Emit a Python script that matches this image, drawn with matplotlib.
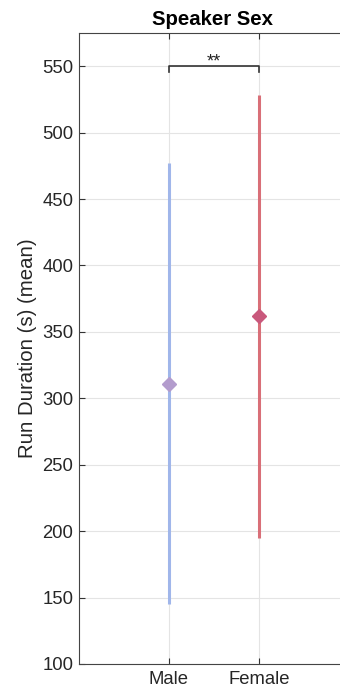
import matplotlib
matplotlib.use("Agg")
import matplotlib.pyplot as plt

plt.rcParams['font.family'] = ['Liberation Sans', 'DejaVu Sans']

# data
groups = ["Male", "Female"]
means = [311, 362]
lows = [145, 195]
highs = [477, 528]
line_colors = ["#a0b6ea", "#d96f78"]
marker_colors = ["#b39ccd", "#c9587c"]
sig_y = 550
sig_text = "**"

fig = plt.figure(figsize=(3.4, 6.9), dpi=100)
ax = fig.add_axes([79/340, 26/690, 270/340, 631/690])

xs = [1, 2]
for x, lo, hi, m, lc, mc in zip(xs, lows, highs, means, line_colors, marker_colors):
    ax.plot([x, x], [lo, hi], color=lc, linewidth=2.2, solid_capstyle='butt', zorder=3)
    ax.plot(x, m, marker='D', markersize=7, color=mc, markeredgecolor=mc, zorder=4)

# significance bracket
ax.plot([1, 1, 2, 2], [sig_y - 4, sig_y, sig_y, sig_y - 4], color="#333333", linewidth=1.2, zorder=5)
ax.text(1.5, sig_y - 3, sig_text, ha='center', va='bottom', fontsize=13, color="#222222")

ax.set_xlim(0, 3)
ax.set_ylim(100, 575)
ax.set_xticks(xs)
ax.set_xticklabels(groups)
ax.set_yticks(range(100, 551, 50))
ax.tick_params(axis='both', labelsize=13.3, direction='in', length=4, colors="#333333",
               labelcolor="#262626", pad=4)
ax.tick_params(axis='x', top=True, pad=5)
ax.grid(True, color="#e4e4e4", linewidth=0.8, zorder=0)
ax.set_axisbelow(True)
for s in ax.spines.values():
    s.set_color("#444444")
    s.set_linewidth(0.8)

ax.set_ylabel("Run Duration (s) (mean)", fontsize=14.7, color="#262626", labelpad=4)
ax.set_title("Speaker Sex", fontsize=14.7, fontweight='bold', x=(213 - 79) / 270, pad=6)

fig.savefig("out.png", dpi=100)
